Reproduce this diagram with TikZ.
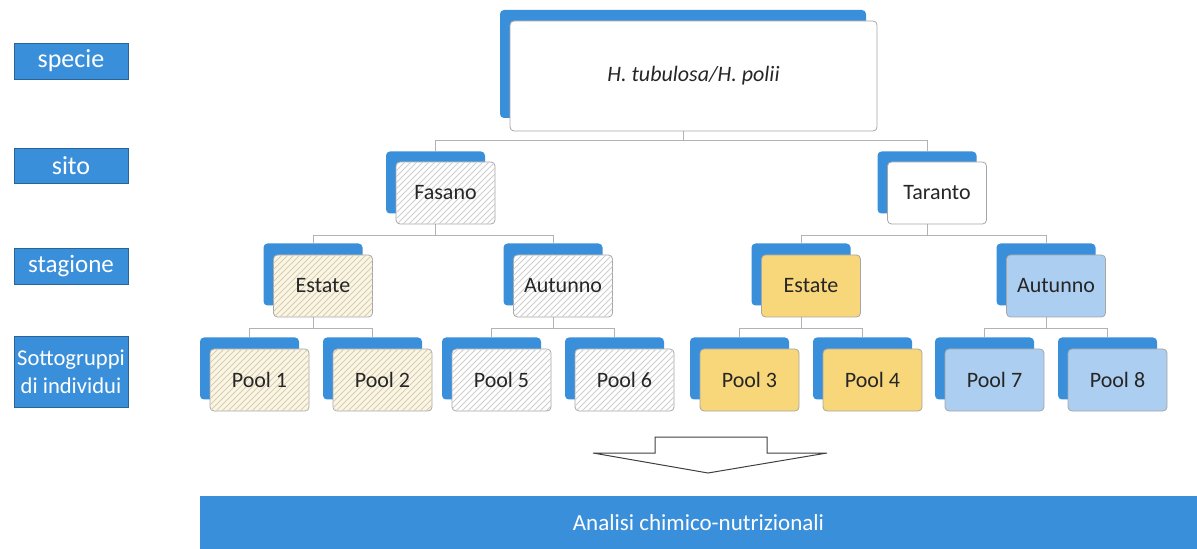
\documentclass[tikz,border=0pt]{standalone}
\usepackage{fontspec}
\setmainfont{Carlito}
\usetikzlibrary{patterns}
\definecolor{boxblue}{RGB}{58,143,219}
\definecolor{cream}{RGB}{251,246,228}
\definecolor{gold}{RGB}{248,214,122}
\definecolor{skyblue}{RGB}{172,206,240}
\definecolor{creamline}{RGB}{215,205,180}
\tikzset{
	backbox/.style={fill=boxblue, rounded corners=2pt, minimum width=49.5pt, minimum height=31pt, inner sep=0pt},
	frontbox/.style={draw=gray!70, line width=0.4pt, rounded corners=2pt, minimum width=49.5pt, minimum height=31pt, inner sep=0pt, text=black!85, font=\fontsize{11}{13}\selectfont},
	hatch/.style={postaction={pattern=north east lines, pattern color=#1}},
	hatch/.default=gray!38,
	levelbox/.style={fill=boxblue, draw=boxblue!70!black, line width=0.3pt, minimum width=57pt, inner sep=0pt, text=white, font=\fontsize{12.5}{14}\selectfont, align=center},
	link/.style={draw=gray!60, line width=0.5pt}
}

\begin{document}
\begin{tikzpicture}[x=0.5pt, y=-0.5pt]
			%%%%% START %%%%%
			\useasboundingbox (0, 0) rectangle (1197, 549);
			
			% livelli a sinistra
			\node[levelbox, minimum height=18pt, font=\fontsize{13}{14}\selectfont] (lspecie) at (71, 61) {specie};
			\node[levelbox, minimum height=17.5pt, font=\fontsize{13}{14}\selectfont] (lsito) at (71, 165.5) {sito};
			\node[levelbox, minimum height=18pt] (lstagione) at (71, 266) {stagione};
			\node[levelbox, minimum height=35.5pt, font=\fontsize{11.3}{14}\selectfont] (lsotto) at (71, 371.5) {Sottogruppi\\di individui};
			
			% box dietro
			\node[backbox, minimum width=183pt, minimum height=54pt] (topB) at (683, 64) {};
			\node[backbox] (fasB) at (435.5, 182.5) {};
			\node[backbox] (tarB) at (927, 182.5) {};
			\node[backbox] (estLB) at (313, 274.5) {};
			\node[backbox] (autLB) at (553, 274.5) {};
			\node[backbox] (estRB) at (801, 274.5) {};
			\node[backbox] (autRB) at (1046, 274.5) {};
			\node[backbox] (p1B) at (249.5, 368.5) {};
			\node[backbox] (p2B) at (372.5, 368.5) {};
			\node[backbox] (p5B) at (491.5, 368.5) {};
			\node[backbox] (p6B) at (614.5, 368.5) {};
			\node[backbox] (p3B) at (739.5, 368.5) {};
			\node[backbox] (p4B) at (862.5, 368.5) {};
			\node[backbox] (p7B) at (984.5, 368.5) {};
			\node[backbox] (p8B) at (1107.5, 368.5) {};
			
			% collegamenti
			\draw[link] (topB.south) -- ++(0, 22) -| (fasB.north);
			\draw[link] (topB.south) -- ++(0, 22) -| (tarB.north);
			\draw[link] (fasB.south) -- ++(0, 22) -| (estLB.north);
			\draw[link] (fasB.south) -- ++(0, 22) -| (autLB.north);
			\draw[link] (tarB.south) -- ++(0, 22) -| (estRB.north);
			\draw[link] (tarB.south) -- ++(0, 22) -| (autRB.north);
			\draw[link] (estLB.south) -- ++(0, 23) -| (p1B.north);
			\draw[link] (estLB.south) -- ++(0, 23) -| (p2B.north);
			\draw[link] (autLB.south) -- ++(0, 23) -| (p5B.north);
			\draw[link] (autLB.south) -- ++(0, 23) -| (p6B.north);
			\draw[link] (estRB.south) -- ++(0, 23) -| (p3B.north);
			\draw[link] (estRB.south) -- ++(0, 23) -| (p4B.north);
			\draw[link] (autRB.south) -- ++(0, 23) -| (p7B.north);
			\draw[link] (autRB.south) -- ++(0, 23) -| (p8B.north);
			
			% box davanti
			\node[frontbox, fill=white, minimum width=183.5pt, minimum height=55pt] (top) at (693.5, 76) {\itshape H. tubulosa/H. polii};
			\node[frontbox, fill=white, hatch] (fas) at (445.5, 193) {Fasano};
			\node[frontbox, fill=white] (tar) at (937, 193) {Taranto};
			
			\node[frontbox, fill=cream, hatch=creamline] (estL) at (323, 286) {Estate};
			\node[frontbox, fill=white, hatch] (autL) at (563, 286) {Autunno};
			\node[frontbox, fill=gold] (estR) at (811, 286) {Estate};
			\node[frontbox, fill=skyblue] (autR) at (1056, 286) {Autunno};
			
			\node[frontbox, fill=cream, hatch=creamline] (p1) at (259.5, 380) {Pool 1};
			\node[frontbox, fill=cream, hatch=creamline] (p2) at (382.5, 380) {Pool 2};
			\node[frontbox, fill=white, hatch] (p5) at (501.5, 380) {Pool 5};
			\node[frontbox, fill=white, hatch] (p6) at (624.5, 380) {Pool 6};
			\node[frontbox, fill=gold] (p3) at (749.5, 380) {Pool 3};
			\node[frontbox, fill=gold] (p4) at (872.5, 380) {Pool 4};
			\node[frontbox, fill=skyblue] (p7) at (994.5, 380) {Pool 7};
			\node[frontbox, fill=skyblue] (p8) at (1117.5, 380) {Pool 8};
			
			% freccia verso il basso
			\draw[line width=0.5pt, draw=black!75, fill=white] (593, 453) -- (655, 453) -- (655, 437) -- (767, 437) -- (767, 453) -- (827, 453) -- (708, 473) -- cycle;
			
			% barra in basso
			\node[fill=boxblue, minimum width=498.5pt, minimum height=26.5pt, inner sep=0pt, text=white, font=\fontsize{11.5}{13}\selectfont] (analisi) at (698.5, 522.5) {Analisi chimico-nutrizionali};
			
			%%%%% END %%%%%
\end{tikzpicture}
\end{document}
